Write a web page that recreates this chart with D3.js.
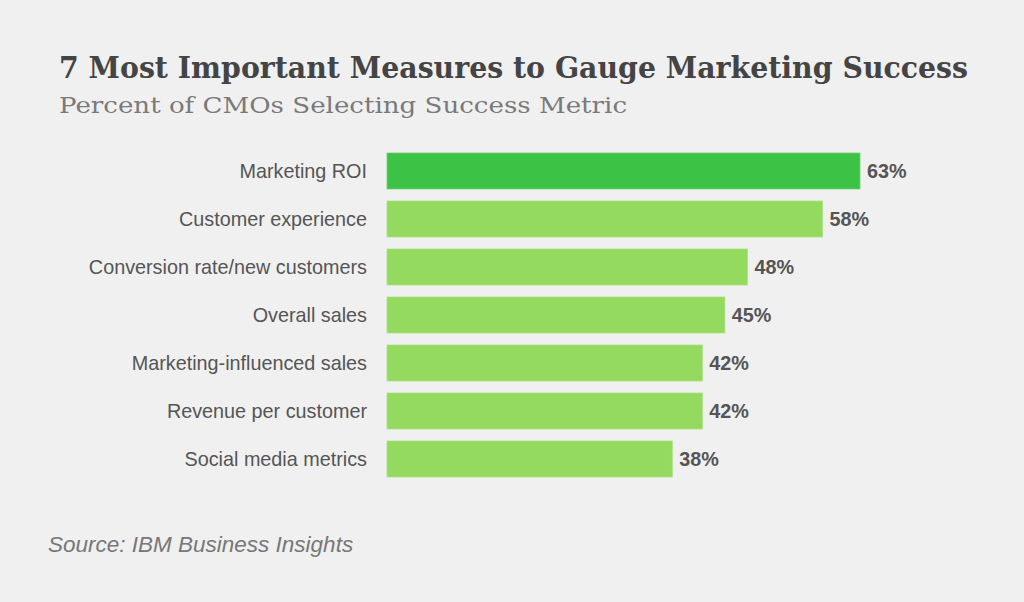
<!DOCTYPE html>
<html>
<head>
<meta charset="utf-8">
<script src="https://cdn.jsdelivr.net/npm/d3@7"></script>
<style>
  html, body { margin: 0; padding: 0; background: #f0f0f0; }
  svg { display: block; }
</style>
</head>
<body>
<svg id="chart" width="1024" height="602"></svg>
<script>
const categories = ["Marketing ROI", "Customer experience", "Conversion rate/new customers", "Overall sales", "Marketing-influenced sales", "Revenue per customer", "Social media metrics"];
const values = [63, 58, 48, 45, 42, 42, 38];
const highlight = [true, false, false, false, false, false, false];
const title = "7 Most Important Measures to Gauge Marketing Success";
const subtitle = "Percent of CMOs Selecting Success Metric";
const source = "Source: IBM Business Insights";

const svg = d3.select("#chart");
svg.append("rect").attr("width", 1024).attr("height", 602).attr("fill", "#f0f0f0");

svg.append("text").attr("x", 59).attr("y", 78)
  .attr("font-family", "DejaVu Serif").attr("font-weight", "bold").attr("font-size", 29)
  .attr("fill", "#444").attr("textLength", 909).attr("lengthAdjust", "spacingAndGlyphs")
  .text(title);
svg.append("text").attr("x", 59).attr("y", 113)
  .attr("font-family", "DejaVu Serif").attr("font-size", 23)
  .attr("fill", "#7a7a7a").attr("textLength", 568).attr("lengthAdjust", "spacingAndGlyphs")
  .text(subtitle);

const x = d3.scaleLinear().domain([0, 63]).range([387, 860]);
const y = d3.scaleBand().domain(categories).range([147, 483]).paddingInner(0.25).paddingOuter(0.125);

const g = svg.append("g");
g.selectAll("rect.bar").data(categories).join("rect")
  .attr("class", "bar")
  .attr("x", x(0))
  .attr("y", d => y(d))
  .attr("width", (d, i) => x(values[i]) - x(0))
  .attr("height", y.bandwidth())
  .attr("fill", (d, i) => highlight[i] ? "#3cc244" : "#93da5f")
  .attr("stroke", (d, i) => highlight[i] ? "#6fd370" : "#a8e27f")
  .attr("stroke-width", 0.8);

g.selectAll("text.cat").data(categories).join("text")
  .attr("class", "cat")
  .attr("x", 367)
  .attr("y", d => y(d) + y.bandwidth() / 2)
  .attr("dy", "0.35em")
  .attr("text-anchor", "end")
  .attr("font-family", "Liberation Sans, Arial, sans-serif")
  .attr("font-size", 19.8)
  .attr("fill", "#555")
  .text(d => d);

g.selectAll("text.val").data(categories).join("text")
  .attr("class", "val")
  .attr("x", (d, i) => x(values[i]) + 7)
  .attr("y", d => y(d) + y.bandwidth() / 2)
  .attr("dy", "0.35em")
  .attr("font-family", "Liberation Sans, Arial, sans-serif")
  .attr("font-weight", "bold")
  .attr("font-size", 19.8)
  .attr("fill", "#555")
  .text((d, i) => values[i] + "%");

svg.append("text").attr("x", 48).attr("y", 552)
  .attr("font-family", "Liberation Sans, Arial, sans-serif").attr("font-style", "italic")
  .attr("font-size", 22.5).attr("fill", "#777")
  .text(source);
</script>
</body>
</html>
